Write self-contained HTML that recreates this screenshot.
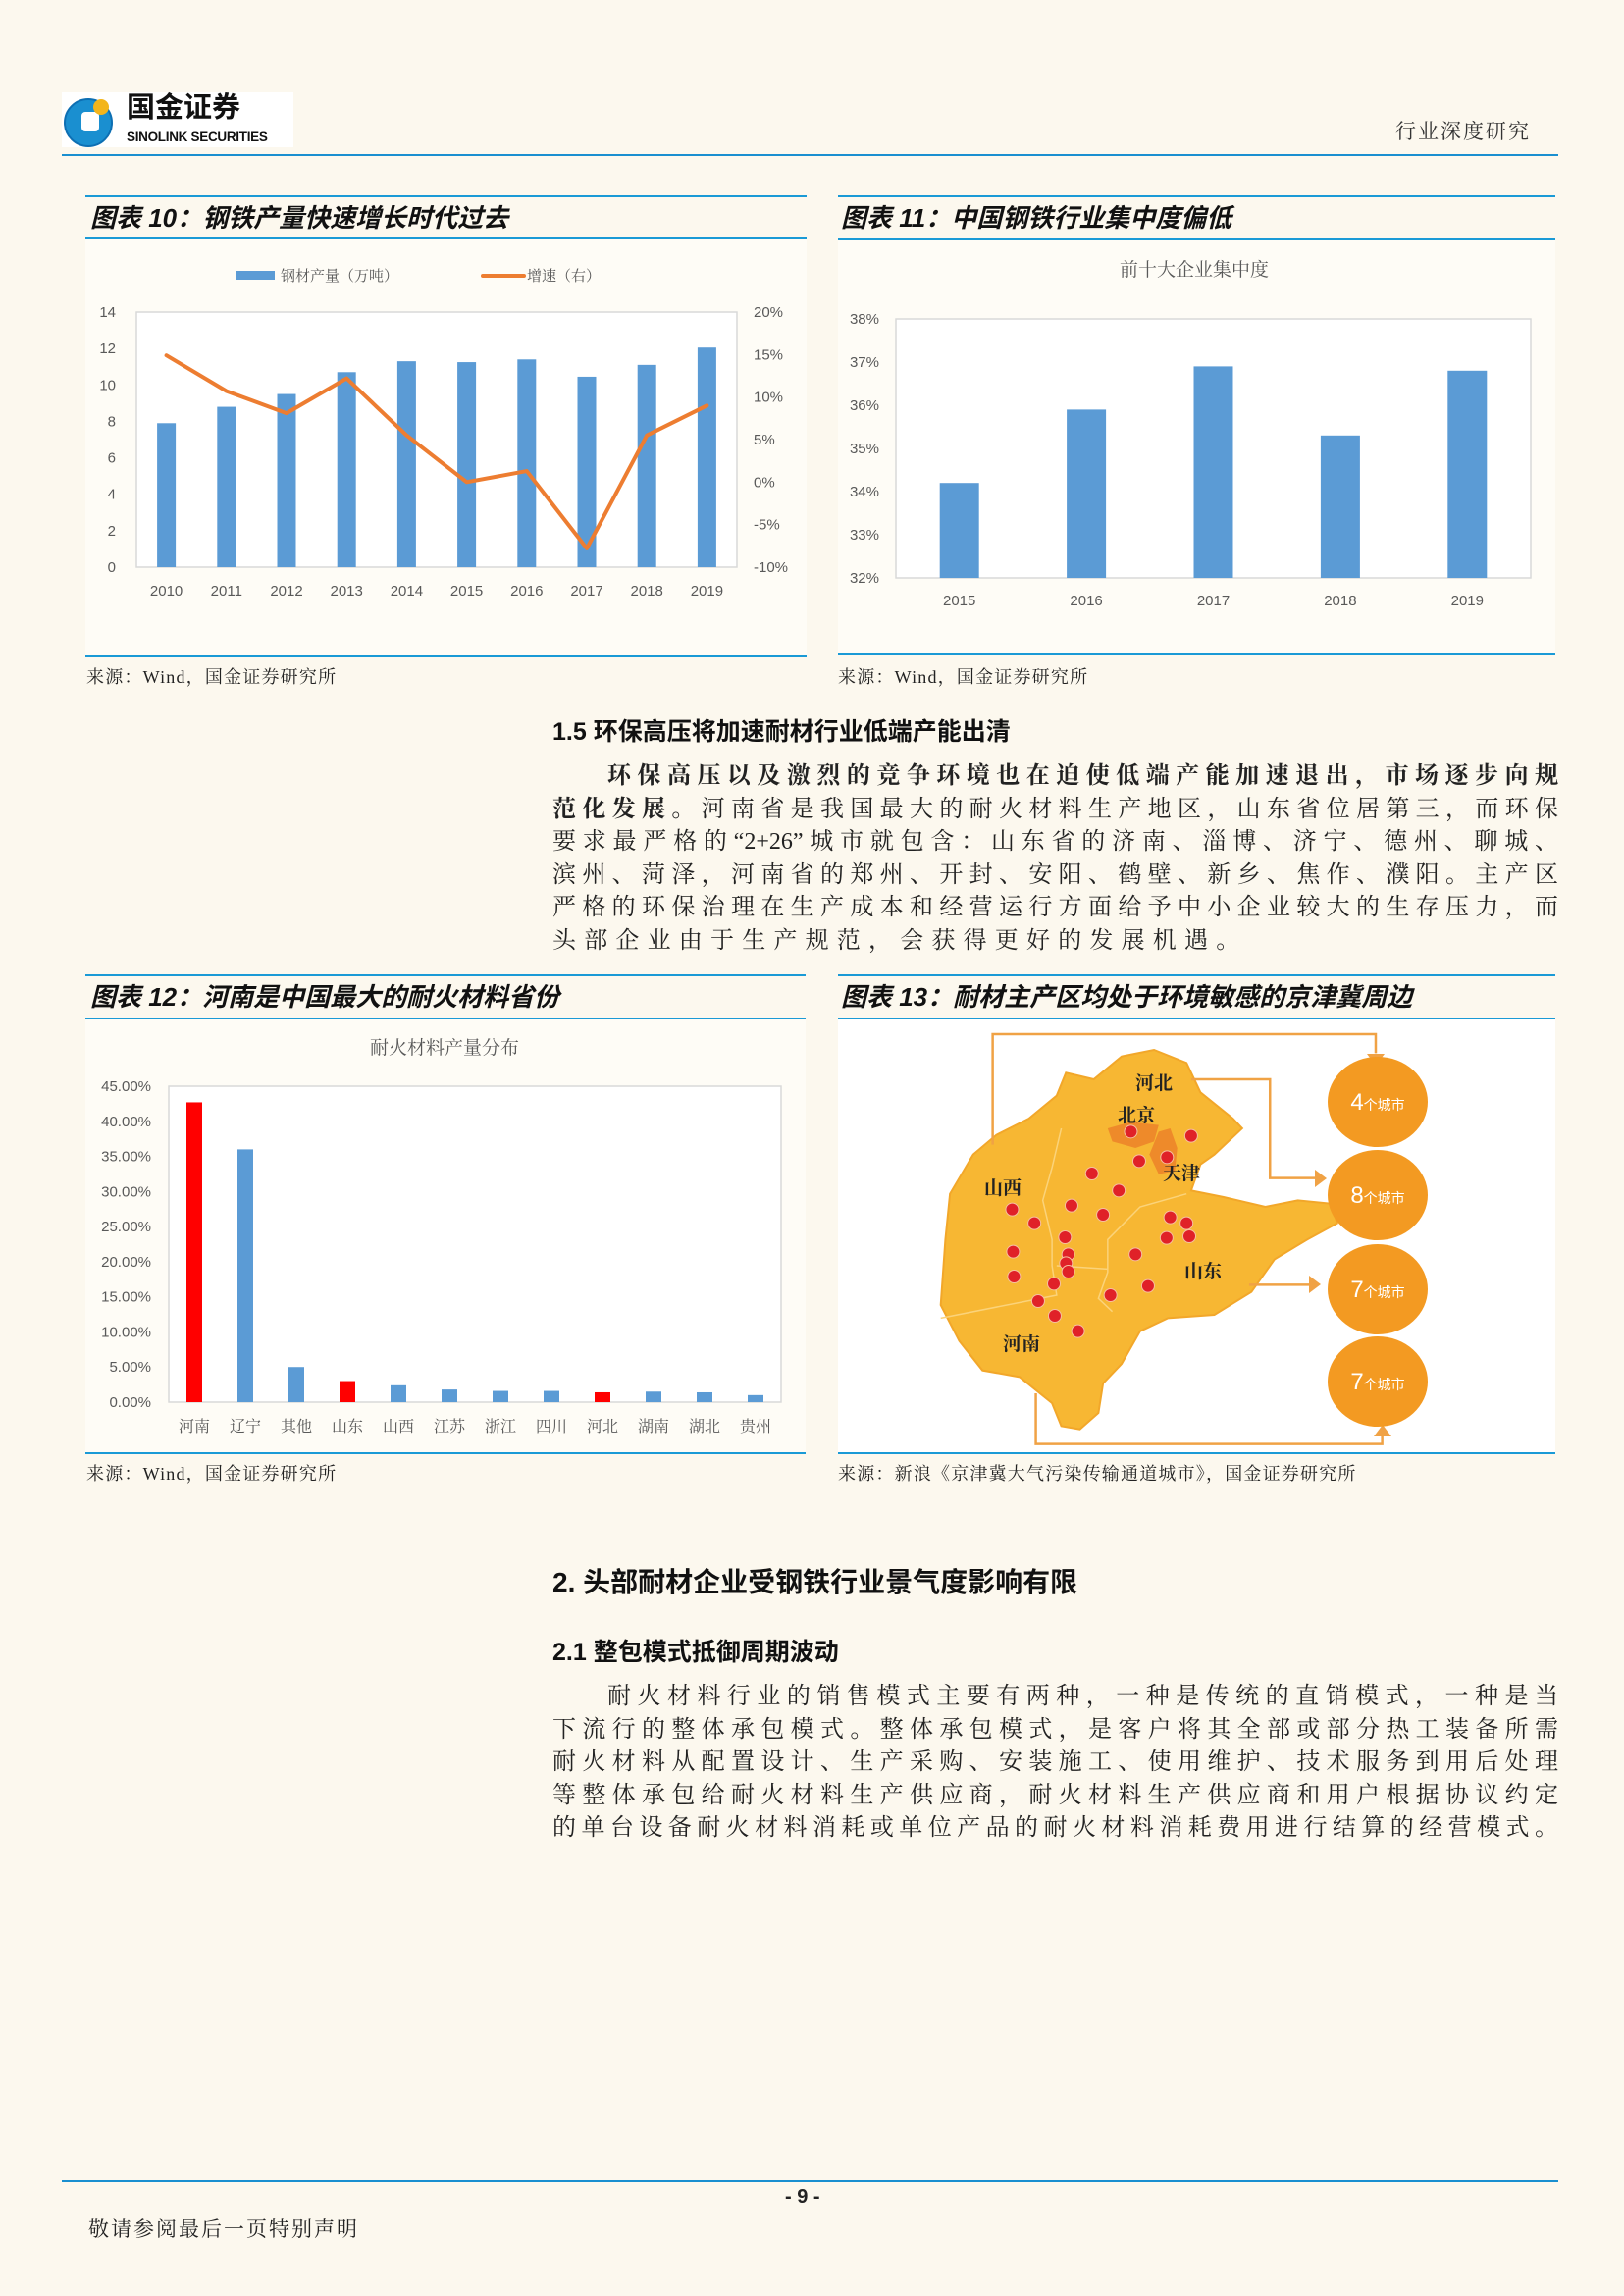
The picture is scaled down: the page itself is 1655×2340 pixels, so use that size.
<!DOCTYPE html>
<html><head><meta charset="utf-8">
<style>
body{margin:0;padding:0;background:#fcf8ee;}
#page{position:relative;width:1655px;height:2340px;background:#fcf8ee;overflow:hidden;font-family:"Liberation Sans","Noto Sans CJK SC",sans-serif;color:#222;}
.abs{position:absolute;white-space:nowrap;}
.ct{font-family:"Liberation Sans","Noto Sans CJK SC",sans-serif;font-weight:bold;font-style:italic;font-size:26px;color:#111;}
.src{font-family:"Liberation Serif","Noto Serif CJK SC",serif;font-size:18px;color:#222;letter-spacing:1.2px;}
.para{position:absolute;left:563px;width:1025px;font-family:"Liberation Serif","Noto Serif CJK SC",serif;font-size:24px;color:#222;}
.ln{height:33.5px;line-height:33.5px;text-align:justify;text-align-last:justify;white-space:nowrap;}
.ln.last{text-align-last:left;}
.h{font-family:"Liberation Sans","Noto Sans CJK SC",sans-serif;font-weight:bold;color:#111;}
</style></head>
<body>
<div id="page">

<!-- header -->
<div class="abs" style="left:63px;top:94px;width:236px;height:56px;background:#fff;">
  <svg width="56" height="56" style="position:absolute;left:0;top:2px">
    <circle cx="27" cy="29" r="24" fill="#1a8fd0"/>
    <circle cx="27" cy="29" r="24" fill="none" stroke="#0d6fb3" stroke-width="2"/>
    <rect x="20" y="18" width="18" height="20" rx="4" fill="#fff"/>
    <circle cx="40" cy="13" r="8" fill="#f3b51c"/>
  </svg>
  <div class="abs" style="left:66px;top:-2px;font-size:29px;line-height:36px;font-weight:bold;color:#111;font-family:'Liberation Sans','Noto Sans CJK SC',sans-serif;">国金证券</div>
  <div class="abs" style="left:66px;top:38px;font-size:13.5px;line-height:16px;font-weight:bold;color:#111;letter-spacing:-0.3px">SINOLINK SECURITIES</div>
</div>
<div class="abs" style="left:1422px;top:118px;font-family:'Liberation Serif','Noto Serif CJK SC',serif;font-size:21px;color:#333;letter-spacing:2px">行业深度研究</div>
<div class="abs" style="left:63px;top:157px;width:1525px;height:2px;background:#1a8fd0"></div>

<!-- chart panels -->
<div class="abs" style="left:87px;top:243px;width:735px;height:426px;background:#fefcf6"></div>
<div class="abs" style="left:854px;top:243px;width:731px;height:424px;background:#fefcf6"></div>
<div class="abs" style="left:87px;top:1038px;width:734px;height:443px;background:#fefcf6"></div>
<div class="abs" style="left:854px;top:1038px;width:731px;height:443px;background:#fff"></div>

<div class="abs" style="left:87px;top:199px;width:735px;height:2px;background:#1a9ad6"></div>
<div class="abs" style="left:87px;top:242px;width:735px;height:2px;background:#1a9ad6"></div>
<div class="abs" style="left:87px;top:668px;width:735px;height:2px;background:#1a9ad6"></div>
<div class="abs ct" style="left:92px;top:202px">图表 10：钢铁产量快速增长时代过去</div>
<div class="abs src" style="left:88px;top:676px">来源：Wind，国金证券研究所</div>

<div class="abs" style="left:854px;top:199px;width:731px;height:2px;background:#1a9ad6"></div>
<div class="abs" style="left:854px;top:243px;width:731px;height:2px;background:#1a9ad6"></div>
<div class="abs" style="left:854px;top:666px;width:731px;height:2px;background:#1a9ad6"></div>
<div class="abs ct" style="left:857px;top:202px">图表 11：中国钢铁行业集中度偏低</div>
<div class="abs src" style="left:854px;top:676px">来源：Wind，国金证券研究所</div>

<div class="abs" style="left:87px;top:993px;width:734px;height:2px;background:#1a9ad6"></div>
<div class="abs" style="left:87px;top:1037px;width:734px;height:2px;background:#1a9ad6"></div>
<div class="abs" style="left:87px;top:1480px;width:734px;height:2px;background:#1a9ad6"></div>
<div class="abs ct" style="left:92px;top:996px">图表 12：河南是中国最大的耐火材料省份</div>
<div class="abs src" style="left:88px;top:1488px">来源：Wind，国金证券研究所</div>

<div class="abs" style="left:854px;top:993px;width:731px;height:2px;background:#1a9ad6"></div>
<div class="abs" style="left:854px;top:1037px;width:731px;height:2px;background:#1a9ad6"></div>
<div class="abs" style="left:854px;top:1480px;width:731px;height:2px;background:#1a9ad6"></div>
<div class="abs ct" style="left:857px;top:996px">图表 13：耐材主产区均处于环境敏感的京津冀周边</div>
<div class="abs src" style="left:854px;top:1488px">来源：新浪《京津冀大气污染传输通道城市》，国金证券研究所</div>

<!-- section 1.5 -->
<div class="abs h" style="left:563px;top:726px;font-size:25px">1.5 环保高压将加速耐材行业低端产能出清</div>
<div class="para" style="top:775px">
  <div class="ln" style="padding-left:56px"><b>环保高压以及激烈的竞争环境也在迫使低端产能加速退出，市场逐步向规</b></div>
  <div class="ln"><b>范化发展。</b>河南省是我国最大的耐火材料生产地区，山东省位居第三，而环保</div>
  <div class="ln">要求最严格的“2+26”城市就包含：山东省的济南、淄博、济宁、德州、聊城、</div>
  <div class="ln">滨州、菏泽，河南省的郑州、开封、安阳、鹤壁、新乡、焦作、濮阳。主产区</div>
  <div class="ln">严格的环保治理在生产成本和经营运行方面给予中小企业较大的生存压力，而</div>
  <div class="ln last" style="letter-spacing:8.2px">头部企业由于生产规范，会获得更好的发展机遇。</div>
</div>

<!-- section 2 -->
<div class="abs h" style="left:563px;top:1591px;font-size:28px">2. 头部耐材企业受钢铁行业景气度影响有限</div>
<div class="abs h" style="left:563px;top:1664px;font-size:25px">2.1 整包模式抵御周期波动</div>
<div class="para" style="top:1713px">
  <div class="ln" style="padding-left:56px">耐火材料行业的销售模式主要有两种，一种是传统的直销模式，一种是当</div>
  <div class="ln">下流行的整体承包模式。整体承包模式，是客户将其全部或部分热工装备所需</div>
  <div class="ln">耐火材料从配置设计、生产采购、安装施工、使用维护、技术服务到用后处理</div>
  <div class="ln">等整体承包给耐火材料生产供应商，耐火材料生产供应商和用户根据协议约定</div>
  <div class="ln">的单台设备耐火材料消耗或单位产品的耐火材料消耗费用进行结算的经营模式。</div>
</div>

<!-- footer -->
<div class="abs" style="left:63px;top:2222px;width:1525px;height:2px;background:#1a8fd0"></div>
<div class="abs" style="left:800px;top:2228px;font-size:20px;font-weight:bold">- 9 -</div>
<div class="abs" style="left:90px;top:2256px;font-family:'Liberation Serif','Noto Serif CJK SC',serif;font-size:21px;letter-spacing:2px">敬请参阅最后一页特别声明</div>

<svg id="charts" width="1655" height="2340" style="position:absolute;left:0;top:0"></svg>
</div>

<script>
// Chart 10 data
const c10Years = ['2010','2011','2012','2013','2014','2015','2016','2017','2018','2019'];
const c10Output = [7.9, 8.8, 9.5, 10.7, 11.3, 11.25, 11.4, 10.45, 11.1, 12.05];
const c10Growth = [14.9, 10.7, 8.1, 12.2, 5.5, 0.0, 1.3, -7.8, 5.5, 9.0];
const c10LeftTicks = [0,2,4,6,8,10,12,14];
const c10RightTicks = [-10,-5,0,5,10,15,20];
// Chart 11 data
const c11Years = ['2015','2016','2017','2018','2019'];
const c11Values = [34.2, 35.9, 36.9, 35.3, 36.8];
const c11Ticks = [32,33,34,35,36,37,38];
// Chart 12 data
const c12Provinces = ['河南','辽宁','其他','山东','山西','江苏','浙江','四川','河北','湖南','湖北','贵州'];
const c12Values = [42.7, 36.0, 5.0, 3.0, 2.4, 1.8, 1.6, 1.6, 1.4, 1.5, 1.4, 1.0];
const c12Highlight = [true,false,false,true,false,false,false,false,true,false,false,false];
const c12Ticks = [0,5,10,15,20,25,30,35,40,45];
// Chart 13 data
const c13Counts = [4, 8, 7, 7];

const NS='http://www.w3.org/2000/svg';
const svg=document.getElementById('charts');
function el(tag,attrs,parent,text){
  const e=document.createElementNS(NS,tag);
  for(const k in attrs) e.setAttribute(k,attrs[k]);
  if(text!==undefined) e.textContent=text;
  (parent||svg).appendChild(e);
  return e;
}
const FONT='"Liberation Sans","Noto Sans CJK SC",sans-serif';
const SERIF='"Liberation Serif","Noto Serif CJK SC",serif';

// ---------- Chart 10 ----------
(function(){
  const g=el('g',{});
  
  
  const L=139,R=751,T=318,B=578;
  const yL=v=>B-v/14*(B-T);
  const yR=p=>B-(p+10)/30*(B-T);
  const band=(R-L)/c10Years.length;
  const xc=i=>L+(i+0.5)*band;
  const f=el('rect',{x:L,y:T,width:R-L,height:B-T,fill:'#fff',stroke:'#d9d9d9','stroke-width':1.5},g);
  
  
  c10LeftTicks.forEach(v=>{
    const t=el('text',{x:118,y:yL(v)+5,'text-anchor':'end','font-size':15,fill:'#595959','font-family':FONT},g,String(v));
    
    
  });
  c10RightTicks.forEach(v=>{
    const t=el('text',{x:768,y:yR(v)+5,'font-size':15,fill:'#595959','font-family':FONT},g,v+'%');
    
    
  });
  c10Years.forEach((y,i)=>{
    const b=el('rect',{x:xc(i)-9.5,y:yL(c10Output[i]),width:19,height:B-yL(c10Output[i]),fill:'#5b9bd5'},g);
    
    
    const t=el('text',{x:xc(i),y:607,'text-anchor':'middle','font-size':15,fill:'#595959','font-family':FONT},g,y);
    
    
  });
  const pts=c10Growth.map((p,i)=>xc(i)+','+yR(p)).join(' ');
  const ln=el('polyline',{points:pts,fill:'none',stroke:'#ed7d31','stroke-width':4,'stroke-linejoin':'round','stroke-linecap':'round'},g);
  
  
  const lg=el('g',{},g);
  
  
  el('rect',{x:241,y:276,width:39,height:9,fill:'#5b9bd5'},lg);
  el('text',{x:286,y:286,'font-size':15,fill:'#595959','font-family':SERIF},lg,'钢材产量（万吨）');
  el('line',{x1:492,y1:281,x2:534,y2:281,stroke:'#ed7d31','stroke-width':4,'stroke-linecap':'round'},lg);
  el('text',{x:537,y:286,'font-size':15,fill:'#595959','font-family':SERIF},lg,'增速（右）');
})();

// ---------- Chart 11 ----------
(function(){
  const g=el('g',{});
  
  
  const L=913,R=1560,T=325,B=589;
  const y=v=>B-(v-32)/6*(B-T);
  const band=(R-L)/c11Years.length;
  const xc=i=>L+(i+0.5)*band;
  const t0=el('text',{x:1217,y:281,'text-anchor':'middle','font-size':19,fill:'#595959','font-family':SERIF},g,'前十大企业集中度');
  
  
  const f=el('rect',{x:L,y:T,width:R-L,height:B-T,fill:'#fff',stroke:'#d9d9d9','stroke-width':1.5},g);
  
  
  c11Ticks.forEach(v=>{
    const t=el('text',{x:896,y:y(v)+5,'text-anchor':'end','font-size':15,fill:'#595959','font-family':FONT},g,v+'%');
    
    
  });
  c11Years.forEach((yr,i)=>{
    const b=el('rect',{x:xc(i)-20,y:y(c11Values[i]),width:40,height:B-y(c11Values[i]),fill:'#5b9bd5'},g);
    
    
    const t=el('text',{x:xc(i),y:617,'text-anchor':'middle','font-size':15,fill:'#595959','font-family':FONT},g,yr);
    
    
  });
})();

// ---------- Chart 12 ----------
(function(){
  const g=el('g',{});
  
  
  const L=172,R=796,T=1107,B=1429;
  const y=v=>B-v/45*(B-T);
  const band=(R-L)/c12Provinces.length;
  const xc=i=>L+(i+0.5)*band;
  const t0=el('text',{x:453,y:1074,'text-anchor':'middle','font-size':19,fill:'#595959','font-family':SERIF},g,'耐火材料产量分布');
  
  
  const f=el('rect',{x:L,y:T,width:R-L,height:B-T,fill:'#fff',stroke:'#d9d9d9','stroke-width':1.5},g);
  
  
  c12Ticks.forEach(v=>{
    const t=el('text',{x:154,y:y(v)+5,'text-anchor':'end','font-size':15,fill:'#595959','font-family':FONT},g,v.toFixed(2)+'%');
    
    
  });
  c12Provinces.forEach((p,i)=>{
    const b=el('rect',{x:xc(i)-8,y:y(c12Values[i]),width:16,height:B-y(c12Values[i]),fill:c12Highlight[i]?'#ff0000':'#5b9bd5'},g);
    
    
    const t=el('text',{x:xc(i),y:1459,'text-anchor':'middle','font-size':16,fill:'#595959','font-family':SERIF},g,p);
    
    
  });
})();

// ---------- Chart 13 (map) ----------
(function(){
  const g=el('g',{});
  
  
  const zx=x=>x/2.116+850, zy=y=>y/3+1030;
  const outline=[[690,120],[760,160],[790,250],[860,330],[880,360],[820,440],[790,470],[770,550],[840,570],[930,600],[1000,580],[1070,590],[1085,650],[1020,700],[950,760],[900,860],[820,930],[720,940],[660,980],[620,1080],[580,1140],[570,1230],[530,1280],[490,1270],[470,1200],[400,1120],[320,1100],[270,1010],[230,900],[240,700],[250,560],[300,440],[350,380],[420,330],[480,260],[500,190],[560,210],[620,140]];
  const m=el('polygon',{points:outline.map(p=>zx(p[0])+','+zy(p[1])).join(' '),fill:'#f7b733',stroke:'#f2a72a','stroke-width':2},g);
  
  
  const bj=[[590,360],[640,340],[700,350],[690,400],[650,420],[600,400]];
  const bjp=el('polygon',{points:bj.map(p=>zx(p[0])+','+zy(p[1])).join(' '),fill:'#ee8a2a'},g);
  
  
  const tj=[[700,370],[725,360],[740,420],[735,490],[700,500],[680,440]];
  const tjp=el('polygon',{points:tj.map(p=>zx(p[0])+','+zy(p[1])).join(' '),fill:'#ee8a2a'},g);
  
  
  const borders=[[[490,360],[470,480],[450,580],[470,700],[470,780],[480,870],[230,940]],[[760,560],[660,600],[590,700],[590,800],[570,880],[600,920]],[[480,780],[590,790]]];
  borders.forEach(b=>{
    const pl=el('polyline',{points:b.map(p=>zx(p[0])+','+zy(p[1])).join(' '),fill:'none',stroke:'#fbd37a','stroke-width':1.5},g);
    
    
  });
  const arrows=[
    [[342,410],[342,72],[1168,72],[1168,130]],
    [[770,210],[940,210],[940,512],[1040,512]],
    [[895,838],[1035,838]],
    [[435,1170],[435,1325],[1182,1325],[1182,1285]]
  ];
  arrows.forEach(a=>{
    const pl=el('polyline',{points:a.map(p=>zx(p[0])+','+zy(p[1])).join(' '),fill:'none',stroke:'#f0a245','stroke-width':2.5},g);
    
    
  });
  const heads=[[1402,1086,'d'],[1352,1201,'r'],[1346,1309,'r'],[1409,1452,'u']];
  heads.forEach(h=>{
    const [x,y,d]=h; let pts;
    if(d==='d') pts=`${x-9},${y-12} ${x+9},${y-12} ${x},${y}`;
    else if(d==='u') pts=`${x-9},${y+12} ${x+9},${y+12} ${x},${y}`;
    else pts=`${x-12},${y-9} ${x-12},${y+9} ${x},${y}`;
    const p=el('polygon',{points:pts,fill:'#f0a245'},g);
    
    
  });
  const dots=[[640,370],[770,383],[658,460],[718,448],[556,498],[614,550],[512,596],[580,624],[384,608],[432,650],[498,693],[386,737],[505,745],[500,772],[505,798],[388,813],[474,835],[440,888],[476,933],[526,980],[650,745],[596,870],[677,842],[725,632],[760,650],[717,695],[766,690]];
  dots.forEach(d=>{
    const c=el('circle',{cx:zx(d[0]),cy:zy(d[1]),r:6.5,fill:'#e02128',stroke:'#f5c0a0','stroke-width':1},g);
    
    
  });
  const labels=[['河北',1176,1110],['北京',1158,1143],['天津',1204,1202],['山西',1022,1217],['山东',1226,1302],['河南',1041,1376]];
  labels.forEach(l=>{
    const t=el('text',{x:l[1],y:l[2],'text-anchor':'middle','font-size':19,'font-weight':'bold',fill:'#222','font-family':SERIF},g,l[0]);
    
    
  });
  const cy=[1123,1218,1314,1408];
  c13Counts.forEach((n,i)=>{
    const c=el('ellipse',{cx:1404,cy:cy[i],rx:51,ry:46,fill:'#f39a22'},g);
    
    
    const t=el('text',{x:1404,y:cy[i]+8,'text-anchor':'middle',fill:'#fff','font-family':FONT},g);
    
    
    el('tspan',{'font-size':24},t,String(n));
    el('tspan',{'font-size':14},t,'个城市');
  });
})();
</script>
</body></html>
